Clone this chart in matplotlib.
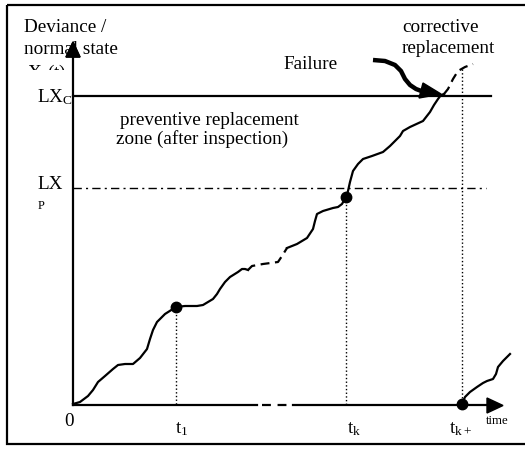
import matplotlib
matplotlib.use("Agg")
import matplotlib.pyplot as plt
from matplotlib.patches import Polygon, Rectangle

plt.rcParams['font.family'] = ['Liberation Serif', 'DejaVu Serif']
plt.rcParams['mathtext.fontset'] = 'custom'
plt.rcParams['mathtext.rm'] = 'Liberation Serif'

# canvas is laid out in pixel units (y grows downward)
W, H = 525, 452
x0, y0 = 73, 406          # origin of the sketch axes
lx_c = 97                 # corrective threshold level
lx_p = 189                # preventive threshold level

# inspection times (x) and the state value at each one (y)
t_names = [r'$\mathregular{t_1}$', r'$\mathregular{t_k}$', r'$\mathregular{t_{k+}}$']
t_pos = [176, 346, 462]
t_state = [308, 198, 405]
t_top = [308, 198, 70]

# degradation path
path_a_x = [73, 80, 88, 93, 98, 105, 113, 118, 125, 133, 140, 147, 150, 153, 157,
            165, 176, 185, 197, 203, 208, 213, 217, 220, 225, 230, 238, 242, 245, 248]
path_a_y = [405, 403, 397, 391, 383, 377, 370, 366, 365, 365, 359, 350, 340, 331, 323,
            315, 308, 307, 307, 306, 303, 300, 295, 290, 283, 278, 273, 270, 270, 271]
gap_x = [248, 252, 263, 278, 282, 287]
gap_y = [271, 267, 265, 263, 257, 249]
path_b_x = [287, 297, 307, 313, 315, 317, 323, 333, 338, 342, 346, 348, 350, 353, 358,
            363, 372, 383, 390, 400, 403, 410, 423, 430, 434, 438, 441, 444]
path_b_y = [249, 245, 239, 230, 222, 215, 212, 209, 208, 205, 198, 192, 183, 172, 165,
            160, 157, 153, 147, 137, 132, 128, 122, 113, 106, 100, 96, 95]
after_x = [444, 448, 453, 458, 465, 473]
after_y = [95, 90, 80, 72, 68, 65]
renew_x = [462, 465, 470, 477, 483, 487, 493, 496, 498, 503, 510]
renew_y = [405, 398, 393, 388, 384, 382, 380, 375, 368, 362, 355]

fail_x = [373, 385, 395, 401, 405, 410, 416, 424]
fail_y = [61, 62, 66, 72, 80, 86, 90, 93]

fig = plt.figure(figsize=(W / 100, H / 100), dpi=100)
ax = fig.add_axes([0, 0, 1, 1])
ax.set_xlim(0, W)
ax.set_ylim(H, 0)
ax.axis('off')

lw = 1.6
# outer frame
ax.add_patch(Rectangle((7, 6), 530, 439, fill=False, lw=lw, ec='black', clip_on=False))

# axes with arrow heads
ax.plot([x0, x0], [y0, 56], color='black', lw=lw)
ax.add_patch(Polygon([(66, 58), (80, 58), (73, 43)], color='black'))
ax.plot([x0, 257], [y0, y0], color='black', lw=lw)
ax.plot([262, 291], [y0, y0], color='black', lw=lw, dashes=(4, 3))
ax.plot([293, 488], [y0, y0], color='black', lw=lw)
ax.add_patch(Polygon([(487, 399), (487, 414), (503, 406.5)], color='black'))

# threshold levels
ax.plot([x0, 491], [lx_c, lx_c], color='black', lw=lw)
ax.plot([x0, 486], [lx_p, lx_p], color='black', lw=1.0, dashes=(6, 3, 1.5, 3))

# inspection markers
for xp, yt in zip(t_pos, t_top):
    ax.plot([xp, xp], [yt, y0], color='black', lw=1.0, ls=':')

# path
ax.plot(path_a_x, path_a_y, color='black', lw=lw)
ax.plot(gap_x, gap_y, color='black', lw=lw, dashes=(4, 2.5))
ax.plot(path_b_x, path_b_y, color='black', lw=lw)
ax.plot(after_x, after_y, color='black', lw=lw, dashes=(4, 2.5))
ax.plot(renew_x, renew_y, color='black', lw=lw)
ax.plot(t_pos, t_state, 'o', color='black', ms=7.5, ls='none')

# failure arrow
ax.plot(fail_x, fail_y, color='black', lw=3.2, solid_capstyle='butt')
ax.add_patch(Polygon([(423, 84), (419, 99), (441, 95)], color='black'))

fs = 13.8
ax.text(24, 32, 'Deviance /', fontsize=fs, va='baseline')
ax.text(24, 54, 'normal state', fontsize=fs, va='baseline')
ax.add_patch(Polygon([(66, 58), (80, 58), (73, 43)], color='black'))
xt = ax.text(27, 78, r'$\mathregular{X_{\,i}(t)}$', fontsize=fs, va='baseline')
xt.set_clip_path(Rectangle((0, 0), 70, 71, transform=ax.transData))
xt.set_clip_on(True)

ax.text(37, 102, r'$\mathregular{LX_C}$', fontsize=fs, va='baseline')
ax.text(37, 189, 'LX', fontsize=fs, va='baseline')
ax.text(38, 209, 'P', fontsize=9, va='baseline')

ax.text(120, 125, 'preventive replacement', fontsize=fs, va='baseline')
ax.text(116, 144, 'zone (after inspection)', fontsize=fs, va='baseline')
ax.text(283, 69, 'Failure', fontsize=fs, va='baseline')
ax.text(402, 32, 'corrective', fontsize=fs, va='baseline')
ax.text(402, 53, 'replacement', fontsize=fs, va='baseline')

ax.text(69, 426, '0', fontsize=fs, va='baseline', ha='center')
for name, xp in zip(t_names, [182, 354, 461]):
    ax.text(xp, 433, name, fontsize=fs, va='baseline', ha='center')
ax.text(497, 424, 'time', fontsize=9.3, va='baseline', ha='center')

fig.savefig('out.png', dpi=100)
